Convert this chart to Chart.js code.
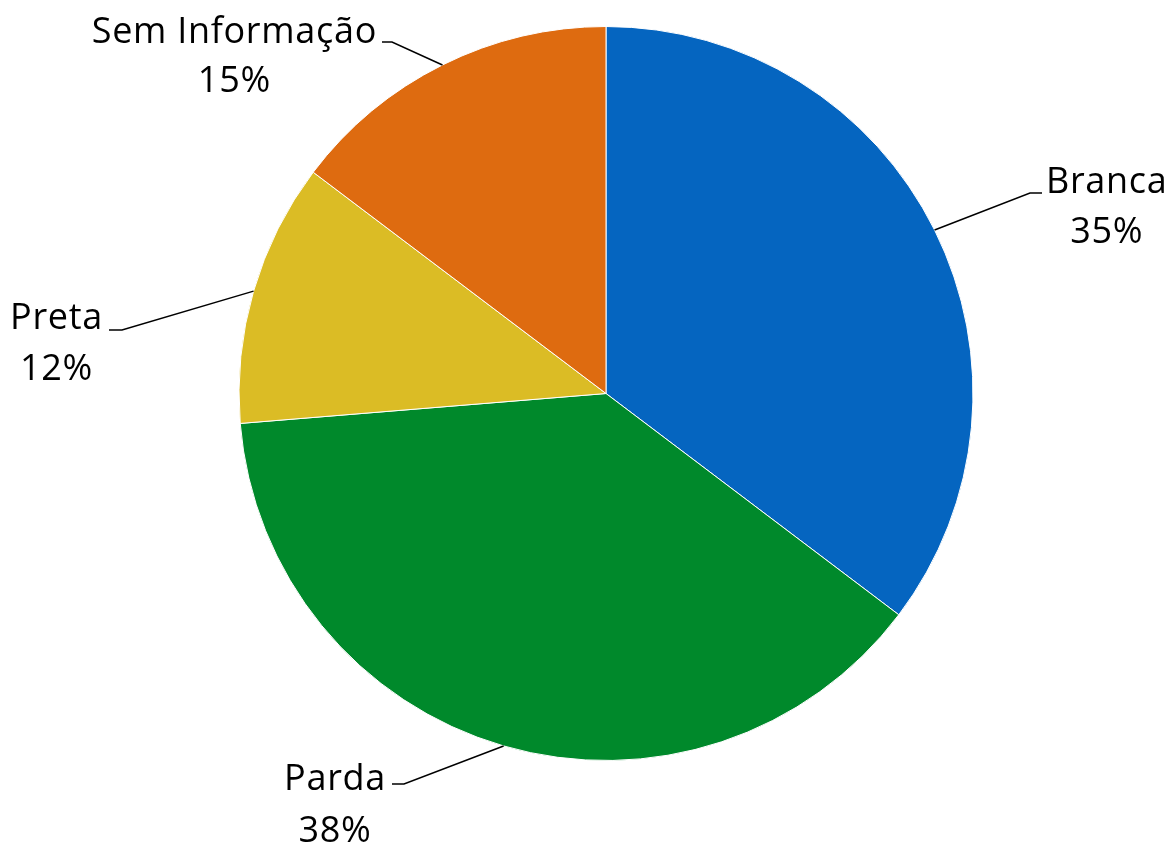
<!DOCTYPE html>
<html lang="pt">
<head>
    <meta charset="UTF-8">
    <title>Raça/Cor</title>
    <style>
        body {
            margin: 0;
            padding: 0;
            background: white;
        }
        canvas {
            display: block;
        }
    </style>
</head>
<body>

    <canvas id="chart1" width="1170" height="845"></canvas>

    <script src="https://cdn.jsdelivr.net/npm/chart.js"></script>
    <script>
        // dados
        const categorias = ["Branca", "Parda", "Preta", "Sem Informação"];
        const valores = [35.3, 38.4, 11.6, 14.7];
        const cores = ["#0565C0", "#00892B", "#DBBC25", "#DE6B10"];

        // onde fica cada rótulo (cotovelo da linha, fim da linha, lado do texto, linhas de base)
        const rotulos = [
            { ex: 1030, ey: 193, hx: 1042, side: "right", tx: 1046, y1: 193, y2: 243 },
            { ex: 404, ey: 784, hx: 392, side: "left", tx: 386, y1: 790, y2: 842 },
            { ex: 122, ey: 330, hx: 109, side: "left", tx: 103, y1: 329, y2: 380 },
            { ex: 392, ey: 42, hx: 382, side: "left", tx: 377, y1: 43, y2: 92 }
        ];

        const fonte = "36px 'Open Sans'";

        const rotuloPlugin = {
            id: "rotuloPlugin",
            afterDraw(chart) {
                let ctx = chart.ctx;
                let meta = chart.getDatasetMeta(0);
                ctx.save();
                ctx.strokeStyle = "#000";
                ctx.lineWidth = 1.5;
                ctx.fillStyle = "#000";
                ctx.font = fonte;
                ctx.letterSpacing = "0.7px";
                ctx.textBaseline = "alphabetic";
                meta.data.forEach((arc, i) => {
                    let p = arc.getProps(["x", "y", "startAngle", "endAngle", "outerRadius"], true);
                    let mid = (p.startAngle + p.endAngle) / 2;
                    let sx = p.x + Math.cos(mid) * p.outerRadius;
                    let sy = p.y + Math.sin(mid) * p.outerRadius;
                    let r = rotulos[i];
                    ctx.beginPath();
                    ctx.moveTo(sx, sy);
                    ctx.lineTo(r.ex, r.ey);
                    ctx.lineTo(r.hx, r.ey);
                    ctx.stroke();

                    let nome = chart.data.labels[i];
                    let pct = Math.round(chart.data.datasets[0].data[i]) + "%";
                    let w = ctx.measureText(nome).width;
                    let left = r.side === "right" ? r.tx : r.tx - w;
                    ctx.textAlign = "left";
                    ctx.fillText(nome, left, r.y1);
                    ctx.textAlign = "center";
                    ctx.fillText(pct, left + w / 2, r.y2);
                });
                ctx.restore();
            }
        };

        let ctx1 = document.getElementById("chart1").getContext("2d");
        new Chart(ctx1, {
            type: "pie",
            data: {
                labels: categorias,
                datasets: [{
                    data: valores,
                    backgroundColor: cores,
                    borderColor: "#ffffff",
                    borderWidth: 1
                }]
            },
            options: {
                responsive: false,
                animation: false,
                layout: { padding: { top: 26, bottom: 84, left: 222, right: 180 } },
                plugins: {
                    legend: { display: false },
                    tooltip: { enabled: false }
                }
            },
            plugins: [rotuloPlugin]
        });
    </script>

</body>
</html>
